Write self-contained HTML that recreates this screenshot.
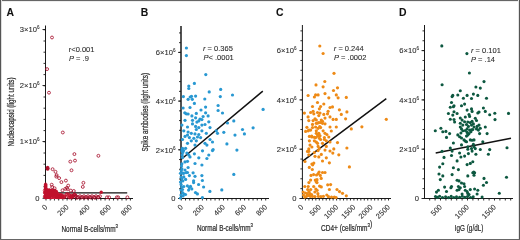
<!DOCTYPE html>
<html><head><meta charset="utf-8"><style>
html,body{margin:0;padding:0;background:#fff;}
body{width:520px;height:240px;overflow:hidden;}
svg{display:block;will-change:transform;font-family:"Liberation Sans", sans-serif;}
text{stroke:#2a2a2a;stroke-width:0.08px;}
</style></head><body>
<svg width="520" height="240" viewBox="0 0 520 240">
<rect x="0" y="0" width="520" height="240" fill="#fff"/>
<line x1="45.5" y1="25.5" x2="45.5" y2="199.0" stroke="#1a1a1a" stroke-width="1.0"/>
<line x1="43.5" y1="197.8" x2="45.5" y2="197.8" stroke="#1a1a1a" stroke-width="0.9"/>
<line x1="43.5" y1="186.6" x2="45.5" y2="186.6" stroke="#1a1a1a" stroke-width="0.9"/>
<line x1="43.5" y1="175.4" x2="45.5" y2="175.4" stroke="#1a1a1a" stroke-width="0.9"/>
<line x1="43.5" y1="164.2" x2="45.5" y2="164.2" stroke="#1a1a1a" stroke-width="0.9"/>
<line x1="43.5" y1="153.0" x2="45.5" y2="153.0" stroke="#1a1a1a" stroke-width="0.9"/>
<line x1="43.5" y1="141.8" x2="45.5" y2="141.8" stroke="#1a1a1a" stroke-width="0.9"/>
<line x1="43.5" y1="130.6" x2="45.5" y2="130.6" stroke="#1a1a1a" stroke-width="0.9"/>
<line x1="43.5" y1="119.4" x2="45.5" y2="119.4" stroke="#1a1a1a" stroke-width="0.9"/>
<line x1="43.5" y1="108.2" x2="45.5" y2="108.2" stroke="#1a1a1a" stroke-width="0.9"/>
<line x1="43.5" y1="97.0" x2="45.5" y2="97.0" stroke="#1a1a1a" stroke-width="0.9"/>
<line x1="43.5" y1="85.8" x2="45.5" y2="85.8" stroke="#1a1a1a" stroke-width="0.9"/>
<line x1="43.5" y1="74.6" x2="45.5" y2="74.6" stroke="#1a1a1a" stroke-width="0.9"/>
<line x1="43.5" y1="63.4" x2="45.5" y2="63.4" stroke="#1a1a1a" stroke-width="0.9"/>
<line x1="43.5" y1="52.2" x2="45.5" y2="52.2" stroke="#1a1a1a" stroke-width="0.9"/>
<line x1="43.5" y1="41.0" x2="45.5" y2="41.0" stroke="#1a1a1a" stroke-width="0.9"/>
<line x1="43.5" y1="29.8" x2="45.5" y2="29.8" stroke="#1a1a1a" stroke-width="0.9"/>
<line x1="42.5" y1="198.3" x2="45.5" y2="198.3" stroke="#1a1a1a" stroke-width="0.9"/>
<text x="39.5" y="201.0" font-size="7.6" text-anchor="end" fill="#2a2a2a">0</text>
<line x1="42.5" y1="141.5" x2="45.5" y2="141.5" stroke="#1a1a1a" stroke-width="0.9"/>
<text x="39.5" y="144.2" font-size="7.6" text-anchor="end" fill="#2a2a2a">1×10<tspan dy="-3" font-size="4.6">6</tspan></text>
<line x1="42.5" y1="85.5" x2="45.5" y2="85.5" stroke="#1a1a1a" stroke-width="0.9"/>
<text x="39.5" y="88.2" font-size="7.6" text-anchor="end" fill="#2a2a2a">2×10<tspan dy="-3" font-size="4.6">6</tspan></text>
<line x1="42.5" y1="29.5" x2="45.5" y2="29.5" stroke="#1a1a1a" stroke-width="0.9"/>
<text x="39.5" y="32.2" font-size="7.6" text-anchor="end" fill="#2a2a2a">3×10<tspan dy="-3" font-size="4.6">6</tspan></text>
<line x1="45.0" y1="198.5" x2="133" y2="198.5" stroke="#1a1a1a" stroke-width="1.0"/>
<line x1="46" y1="198.5" x2="46" y2="200.5" stroke="#1a1a1a" stroke-width="0.9"/>
<line x1="50.22" y1="198.5" x2="50.22" y2="200.5" stroke="#1a1a1a" stroke-width="0.9"/>
<line x1="54.44" y1="198.5" x2="54.44" y2="200.5" stroke="#1a1a1a" stroke-width="0.9"/>
<line x1="58.66" y1="198.5" x2="58.66" y2="200.5" stroke="#1a1a1a" stroke-width="0.9"/>
<line x1="62.88" y1="198.5" x2="62.88" y2="200.5" stroke="#1a1a1a" stroke-width="0.9"/>
<line x1="67.1" y1="198.5" x2="67.1" y2="200.5" stroke="#1a1a1a" stroke-width="0.9"/>
<line x1="71.32" y1="198.5" x2="71.32" y2="200.5" stroke="#1a1a1a" stroke-width="0.9"/>
<line x1="75.54" y1="198.5" x2="75.54" y2="200.5" stroke="#1a1a1a" stroke-width="0.9"/>
<line x1="79.76" y1="198.5" x2="79.76" y2="200.5" stroke="#1a1a1a" stroke-width="0.9"/>
<line x1="83.98" y1="198.5" x2="83.98" y2="200.5" stroke="#1a1a1a" stroke-width="0.9"/>
<line x1="88.2" y1="198.5" x2="88.2" y2="200.5" stroke="#1a1a1a" stroke-width="0.9"/>
<line x1="92.42" y1="198.5" x2="92.42" y2="200.5" stroke="#1a1a1a" stroke-width="0.9"/>
<line x1="96.64" y1="198.5" x2="96.64" y2="200.5" stroke="#1a1a1a" stroke-width="0.9"/>
<line x1="100.86" y1="198.5" x2="100.86" y2="200.5" stroke="#1a1a1a" stroke-width="0.9"/>
<line x1="105.08" y1="198.5" x2="105.08" y2="200.5" stroke="#1a1a1a" stroke-width="0.9"/>
<line x1="109.3" y1="198.5" x2="109.3" y2="200.5" stroke="#1a1a1a" stroke-width="0.9"/>
<line x1="113.52" y1="198.5" x2="113.52" y2="200.5" stroke="#1a1a1a" stroke-width="0.9"/>
<line x1="117.74" y1="198.5" x2="117.74" y2="200.5" stroke="#1a1a1a" stroke-width="0.9"/>
<line x1="121.96" y1="198.5" x2="121.96" y2="200.5" stroke="#1a1a1a" stroke-width="0.9"/>
<line x1="126.18" y1="198.5" x2="126.18" y2="200.5" stroke="#1a1a1a" stroke-width="0.9"/>
<line x1="130.4" y1="198.5" x2="130.4" y2="200.5" stroke="#1a1a1a" stroke-width="0.9"/>
<text x="48.0" y="207.5" font-size="7.4" text-anchor="end" fill="#2a2a2a" transform="rotate(-45 48.00 207.50)">0</text>
<text x="69.1" y="207.5" font-size="7.4" text-anchor="end" fill="#2a2a2a" transform="rotate(-45 69.10 207.50)">200</text>
<text x="90.2" y="207.5" font-size="7.4" text-anchor="end" fill="#2a2a2a" transform="rotate(-45 90.20 207.50)">400</text>
<text x="111.30000000000001" y="207.5" font-size="7.4" text-anchor="end" fill="#2a2a2a" transform="rotate(-45 111.30 207.50)">600</text>
<text x="132.4" y="207.5" font-size="7.4" text-anchor="end" fill="#2a2a2a" transform="rotate(-45 132.40 207.50)">800</text>
<line x1="181" y1="26" x2="181" y2="199.0" stroke="#1a1a1a" stroke-width="1.5"/>
<line x1="179" y1="198.5" x2="181" y2="198.5" stroke="#1a1a1a" stroke-width="0.9"/>
<line x1="179" y1="188.76" x2="181" y2="188.76" stroke="#1a1a1a" stroke-width="0.9"/>
<line x1="179" y1="179.02" x2="181" y2="179.02" stroke="#1a1a1a" stroke-width="0.9"/>
<line x1="179" y1="169.28" x2="181" y2="169.28" stroke="#1a1a1a" stroke-width="0.9"/>
<line x1="179" y1="159.54" x2="181" y2="159.54" stroke="#1a1a1a" stroke-width="0.9"/>
<line x1="179" y1="149.8" x2="181" y2="149.8" stroke="#1a1a1a" stroke-width="0.9"/>
<line x1="179" y1="140.06" x2="181" y2="140.06" stroke="#1a1a1a" stroke-width="0.9"/>
<line x1="179" y1="130.32" x2="181" y2="130.32" stroke="#1a1a1a" stroke-width="0.9"/>
<line x1="179" y1="120.58" x2="181" y2="120.58" stroke="#1a1a1a" stroke-width="0.9"/>
<line x1="179" y1="110.84" x2="181" y2="110.84" stroke="#1a1a1a" stroke-width="0.9"/>
<line x1="179" y1="101.1" x2="181" y2="101.1" stroke="#1a1a1a" stroke-width="0.9"/>
<line x1="179" y1="91.36" x2="181" y2="91.36" stroke="#1a1a1a" stroke-width="0.9"/>
<line x1="179" y1="81.62" x2="181" y2="81.62" stroke="#1a1a1a" stroke-width="0.9"/>
<line x1="179" y1="71.88" x2="181" y2="71.88" stroke="#1a1a1a" stroke-width="0.9"/>
<line x1="179" y1="62.14" x2="181" y2="62.14" stroke="#1a1a1a" stroke-width="0.9"/>
<line x1="179" y1="52.4" x2="181" y2="52.4" stroke="#1a1a1a" stroke-width="0.9"/>
<line x1="179" y1="42.66" x2="181" y2="42.66" stroke="#1a1a1a" stroke-width="0.9"/>
<line x1="179" y1="32.92" x2="181" y2="32.92" stroke="#1a1a1a" stroke-width="0.9"/>
<line x1="178" y1="198.5" x2="181" y2="198.5" stroke="#1a1a1a" stroke-width="0.9"/>
<text x="175.5" y="201.2" font-size="7.6" text-anchor="end" fill="#2a2a2a">0</text>
<line x1="178" y1="149.8" x2="181" y2="149.8" stroke="#1a1a1a" stroke-width="0.9"/>
<text x="175.5" y="152.5" font-size="7.6" text-anchor="end" fill="#2a2a2a">2×10<tspan dy="-3" font-size="4.6">6</tspan></text>
<line x1="178" y1="101.1" x2="181" y2="101.1" stroke="#1a1a1a" stroke-width="0.9"/>
<text x="175.5" y="103.8" font-size="7.6" text-anchor="end" fill="#2a2a2a">4×10<tspan dy="-3" font-size="4.6">6</tspan></text>
<line x1="178" y1="52.4" x2="181" y2="52.4" stroke="#1a1a1a" stroke-width="0.9"/>
<text x="175.5" y="55.1" font-size="7.6" text-anchor="end" fill="#2a2a2a">6×10<tspan dy="-3" font-size="4.6">6</tspan></text>
<line x1="180.5" y1="198.5" x2="269" y2="198.5" stroke="#1a1a1a" stroke-width="1.0"/>
<line x1="181.3" y1="198.5" x2="181.3" y2="200.5" stroke="#1a1a1a" stroke-width="0.9"/>
<line x1="185.52" y1="198.5" x2="185.52" y2="200.5" stroke="#1a1a1a" stroke-width="0.9"/>
<line x1="189.74" y1="198.5" x2="189.74" y2="200.5" stroke="#1a1a1a" stroke-width="0.9"/>
<line x1="193.96" y1="198.5" x2="193.96" y2="200.5" stroke="#1a1a1a" stroke-width="0.9"/>
<line x1="198.18" y1="198.5" x2="198.18" y2="200.5" stroke="#1a1a1a" stroke-width="0.9"/>
<line x1="202.4" y1="198.5" x2="202.4" y2="200.5" stroke="#1a1a1a" stroke-width="0.9"/>
<line x1="206.62" y1="198.5" x2="206.62" y2="200.5" stroke="#1a1a1a" stroke-width="0.9"/>
<line x1="210.84" y1="198.5" x2="210.84" y2="200.5" stroke="#1a1a1a" stroke-width="0.9"/>
<line x1="215.06" y1="198.5" x2="215.06" y2="200.5" stroke="#1a1a1a" stroke-width="0.9"/>
<line x1="219.28" y1="198.5" x2="219.28" y2="200.5" stroke="#1a1a1a" stroke-width="0.9"/>
<line x1="223.5" y1="198.5" x2="223.5" y2="200.5" stroke="#1a1a1a" stroke-width="0.9"/>
<line x1="227.72" y1="198.5" x2="227.72" y2="200.5" stroke="#1a1a1a" stroke-width="0.9"/>
<line x1="231.94" y1="198.5" x2="231.94" y2="200.5" stroke="#1a1a1a" stroke-width="0.9"/>
<line x1="236.16" y1="198.5" x2="236.16" y2="200.5" stroke="#1a1a1a" stroke-width="0.9"/>
<line x1="240.38" y1="198.5" x2="240.38" y2="200.5" stroke="#1a1a1a" stroke-width="0.9"/>
<line x1="244.6" y1="198.5" x2="244.6" y2="200.5" stroke="#1a1a1a" stroke-width="0.9"/>
<line x1="248.82" y1="198.5" x2="248.82" y2="200.5" stroke="#1a1a1a" stroke-width="0.9"/>
<line x1="253.04" y1="198.5" x2="253.04" y2="200.5" stroke="#1a1a1a" stroke-width="0.9"/>
<line x1="257.26" y1="198.5" x2="257.26" y2="200.5" stroke="#1a1a1a" stroke-width="0.9"/>
<line x1="261.48" y1="198.5" x2="261.48" y2="200.5" stroke="#1a1a1a" stroke-width="0.9"/>
<line x1="265.7" y1="198.5" x2="265.7" y2="200.5" stroke="#1a1a1a" stroke-width="0.9"/>
<text x="183.3" y="207.5" font-size="7.4" text-anchor="end" fill="#2a2a2a" transform="rotate(-45 183.30 207.50)">0</text>
<text x="204.4" y="207.5" font-size="7.4" text-anchor="end" fill="#2a2a2a" transform="rotate(-45 204.40 207.50)">200</text>
<text x="225.5" y="207.5" font-size="7.4" text-anchor="end" fill="#2a2a2a" transform="rotate(-45 225.50 207.50)">400</text>
<text x="246.60000000000002" y="207.5" font-size="7.4" text-anchor="end" fill="#2a2a2a" transform="rotate(-45 246.60 207.50)">600</text>
<text x="267.70000000000005" y="207.5" font-size="7.4" text-anchor="end" fill="#2a2a2a" transform="rotate(-45 267.70 207.50)">800</text>
<line x1="302.4" y1="25" x2="302.4" y2="199.0" stroke="#1a1a1a" stroke-width="1.0"/>
<line x1="300.4" y1="198.5" x2="302.4" y2="198.5" stroke="#1a1a1a" stroke-width="0.9"/>
<line x1="300.4" y1="188.64" x2="302.4" y2="188.64" stroke="#1a1a1a" stroke-width="0.9"/>
<line x1="300.4" y1="178.78" x2="302.4" y2="178.78" stroke="#1a1a1a" stroke-width="0.9"/>
<line x1="300.4" y1="168.92" x2="302.4" y2="168.92" stroke="#1a1a1a" stroke-width="0.9"/>
<line x1="300.4" y1="159.06" x2="302.4" y2="159.06" stroke="#1a1a1a" stroke-width="0.9"/>
<line x1="300.4" y1="149.2" x2="302.4" y2="149.2" stroke="#1a1a1a" stroke-width="0.9"/>
<line x1="300.4" y1="139.34" x2="302.4" y2="139.34" stroke="#1a1a1a" stroke-width="0.9"/>
<line x1="300.4" y1="129.48" x2="302.4" y2="129.48" stroke="#1a1a1a" stroke-width="0.9"/>
<line x1="300.4" y1="119.62" x2="302.4" y2="119.62" stroke="#1a1a1a" stroke-width="0.9"/>
<line x1="300.4" y1="109.76" x2="302.4" y2="109.76" stroke="#1a1a1a" stroke-width="0.9"/>
<line x1="300.4" y1="99.9" x2="302.4" y2="99.9" stroke="#1a1a1a" stroke-width="0.9"/>
<line x1="300.4" y1="90.04" x2="302.4" y2="90.04" stroke="#1a1a1a" stroke-width="0.9"/>
<line x1="300.4" y1="80.18" x2="302.4" y2="80.18" stroke="#1a1a1a" stroke-width="0.9"/>
<line x1="300.4" y1="70.32" x2="302.4" y2="70.32" stroke="#1a1a1a" stroke-width="0.9"/>
<line x1="300.4" y1="60.46" x2="302.4" y2="60.46" stroke="#1a1a1a" stroke-width="0.9"/>
<line x1="300.4" y1="50.6" x2="302.4" y2="50.6" stroke="#1a1a1a" stroke-width="0.9"/>
<line x1="300.4" y1="40.74" x2="302.4" y2="40.74" stroke="#1a1a1a" stroke-width="0.9"/>
<line x1="300.4" y1="30.88" x2="302.4" y2="30.88" stroke="#1a1a1a" stroke-width="0.9"/>
<line x1="299.4" y1="198.5" x2="302.4" y2="198.5" stroke="#1a1a1a" stroke-width="0.9"/>
<text x="296.5" y="201.2" font-size="7.6" text-anchor="end" fill="#2a2a2a">0</text>
<line x1="299.4" y1="149.2" x2="302.4" y2="149.2" stroke="#1a1a1a" stroke-width="0.9"/>
<text x="296.5" y="151.89999999999998" font-size="7.6" text-anchor="end" fill="#2a2a2a">2×10<tspan dy="-3" font-size="4.6">6</tspan></text>
<line x1="299.4" y1="99.9" x2="302.4" y2="99.9" stroke="#1a1a1a" stroke-width="0.9"/>
<text x="296.5" y="102.60000000000001" font-size="7.6" text-anchor="end" fill="#2a2a2a">4×10<tspan dy="-3" font-size="4.6">6</tspan></text>
<line x1="299.4" y1="50.6" x2="302.4" y2="50.6" stroke="#1a1a1a" stroke-width="0.9"/>
<text x="296.5" y="53.300000000000004" font-size="7.6" text-anchor="end" fill="#2a2a2a">6×10<tspan dy="-3" font-size="4.6">6</tspan></text>
<line x1="301.9" y1="198.5" x2="391" y2="198.5" stroke="#1a1a1a" stroke-width="1.0"/>
<line x1="305.46" y1="198.5" x2="305.46" y2="200.5" stroke="#1a1a1a" stroke-width="0.9"/>
<line x1="308.92" y1="198.5" x2="308.92" y2="200.5" stroke="#1a1a1a" stroke-width="0.9"/>
<line x1="312.38" y1="198.5" x2="312.38" y2="200.5" stroke="#1a1a1a" stroke-width="0.9"/>
<line x1="315.84" y1="198.5" x2="315.84" y2="200.5" stroke="#1a1a1a" stroke-width="0.9"/>
<line x1="319.3" y1="198.5" x2="319.3" y2="200.5" stroke="#1a1a1a" stroke-width="0.9"/>
<line x1="322.76" y1="198.5" x2="322.76" y2="200.5" stroke="#1a1a1a" stroke-width="0.9"/>
<line x1="326.22" y1="198.5" x2="326.22" y2="200.5" stroke="#1a1a1a" stroke-width="0.9"/>
<line x1="329.68" y1="198.5" x2="329.68" y2="200.5" stroke="#1a1a1a" stroke-width="0.9"/>
<line x1="333.14" y1="198.5" x2="333.14" y2="200.5" stroke="#1a1a1a" stroke-width="0.9"/>
<line x1="336.6" y1="198.5" x2="336.6" y2="200.5" stroke="#1a1a1a" stroke-width="0.9"/>
<line x1="340.06" y1="198.5" x2="340.06" y2="200.5" stroke="#1a1a1a" stroke-width="0.9"/>
<line x1="343.52" y1="198.5" x2="343.52" y2="200.5" stroke="#1a1a1a" stroke-width="0.9"/>
<line x1="346.98" y1="198.5" x2="346.98" y2="200.5" stroke="#1a1a1a" stroke-width="0.9"/>
<line x1="350.44" y1="198.5" x2="350.44" y2="200.5" stroke="#1a1a1a" stroke-width="0.9"/>
<line x1="353.9" y1="198.5" x2="353.9" y2="200.5" stroke="#1a1a1a" stroke-width="0.9"/>
<line x1="357.36" y1="198.5" x2="357.36" y2="200.5" stroke="#1a1a1a" stroke-width="0.9"/>
<line x1="360.82" y1="198.5" x2="360.82" y2="200.5" stroke="#1a1a1a" stroke-width="0.9"/>
<line x1="364.28" y1="198.5" x2="364.28" y2="200.5" stroke="#1a1a1a" stroke-width="0.9"/>
<line x1="367.74" y1="198.5" x2="367.74" y2="200.5" stroke="#1a1a1a" stroke-width="0.9"/>
<line x1="371.2" y1="198.5" x2="371.2" y2="200.5" stroke="#1a1a1a" stroke-width="0.9"/>
<line x1="374.66" y1="198.5" x2="374.66" y2="200.5" stroke="#1a1a1a" stroke-width="0.9"/>
<line x1="378.12" y1="198.5" x2="378.12" y2="200.5" stroke="#1a1a1a" stroke-width="0.9"/>
<line x1="381.58" y1="198.5" x2="381.58" y2="200.5" stroke="#1a1a1a" stroke-width="0.9"/>
<line x1="385.04" y1="198.5" x2="385.04" y2="200.5" stroke="#1a1a1a" stroke-width="0.9"/>
<line x1="388.5" y1="198.5" x2="388.5" y2="200.5" stroke="#1a1a1a" stroke-width="0.9"/>
<text x="304.0" y="207.5" font-size="7.4" text-anchor="end" fill="#2a2a2a" transform="rotate(-45 304.00 207.50)">0</text>
<text x="321.3" y="207.5" font-size="7.4" text-anchor="end" fill="#2a2a2a" transform="rotate(-45 321.30 207.50)">500</text>
<text x="338.6" y="207.5" font-size="7.4" text-anchor="end" fill="#2a2a2a" transform="rotate(-45 338.60 207.50)">1000</text>
<text x="355.9" y="207.5" font-size="7.4" text-anchor="end" fill="#2a2a2a" transform="rotate(-45 355.90 207.50)">1500</text>
<text x="373.2" y="207.5" font-size="7.4" text-anchor="end" fill="#2a2a2a" transform="rotate(-45 373.20 207.50)">2000</text>
<text x="390.5" y="207.5" font-size="7.4" text-anchor="end" fill="#2a2a2a" transform="rotate(-45 390.50 207.50)">2500</text>
<line x1="424.5" y1="25" x2="424.5" y2="199.0" stroke="#1a1a1a" stroke-width="1.0"/>
<line x1="422.5" y1="198.5" x2="424.5" y2="198.5" stroke="#1a1a1a" stroke-width="0.9"/>
<line x1="422.5" y1="188.64" x2="424.5" y2="188.64" stroke="#1a1a1a" stroke-width="0.9"/>
<line x1="422.5" y1="178.78" x2="424.5" y2="178.78" stroke="#1a1a1a" stroke-width="0.9"/>
<line x1="422.5" y1="168.92" x2="424.5" y2="168.92" stroke="#1a1a1a" stroke-width="0.9"/>
<line x1="422.5" y1="159.06" x2="424.5" y2="159.06" stroke="#1a1a1a" stroke-width="0.9"/>
<line x1="422.5" y1="149.2" x2="424.5" y2="149.2" stroke="#1a1a1a" stroke-width="0.9"/>
<line x1="422.5" y1="139.34" x2="424.5" y2="139.34" stroke="#1a1a1a" stroke-width="0.9"/>
<line x1="422.5" y1="129.48" x2="424.5" y2="129.48" stroke="#1a1a1a" stroke-width="0.9"/>
<line x1="422.5" y1="119.62" x2="424.5" y2="119.62" stroke="#1a1a1a" stroke-width="0.9"/>
<line x1="422.5" y1="109.76" x2="424.5" y2="109.76" stroke="#1a1a1a" stroke-width="0.9"/>
<line x1="422.5" y1="99.9" x2="424.5" y2="99.9" stroke="#1a1a1a" stroke-width="0.9"/>
<line x1="422.5" y1="90.04" x2="424.5" y2="90.04" stroke="#1a1a1a" stroke-width="0.9"/>
<line x1="422.5" y1="80.18" x2="424.5" y2="80.18" stroke="#1a1a1a" stroke-width="0.9"/>
<line x1="422.5" y1="70.32" x2="424.5" y2="70.32" stroke="#1a1a1a" stroke-width="0.9"/>
<line x1="422.5" y1="60.46" x2="424.5" y2="60.46" stroke="#1a1a1a" stroke-width="0.9"/>
<line x1="422.5" y1="50.6" x2="424.5" y2="50.6" stroke="#1a1a1a" stroke-width="0.9"/>
<line x1="422.5" y1="40.74" x2="424.5" y2="40.74" stroke="#1a1a1a" stroke-width="0.9"/>
<line x1="422.5" y1="30.88" x2="424.5" y2="30.88" stroke="#1a1a1a" stroke-width="0.9"/>
<line x1="421.5" y1="198.5" x2="424.5" y2="198.5" stroke="#1a1a1a" stroke-width="0.9"/>
<text x="419" y="201.2" font-size="7.6" text-anchor="end" fill="#2a2a2a">0</text>
<line x1="421.5" y1="149.2" x2="424.5" y2="149.2" stroke="#1a1a1a" stroke-width="0.9"/>
<text x="419" y="151.89999999999998" font-size="7.6" text-anchor="end" fill="#2a2a2a">2×10<tspan dy="-3" font-size="4.6">6</tspan></text>
<line x1="421.5" y1="99.9" x2="424.5" y2="99.9" stroke="#1a1a1a" stroke-width="0.9"/>
<text x="419" y="102.60000000000001" font-size="7.6" text-anchor="end" fill="#2a2a2a">4×10<tspan dy="-3" font-size="4.6">6</tspan></text>
<line x1="421.5" y1="50.6" x2="424.5" y2="50.6" stroke="#1a1a1a" stroke-width="0.9"/>
<text x="419" y="53.300000000000004" font-size="7.6" text-anchor="end" fill="#2a2a2a">6×10<tspan dy="-3" font-size="4.6">6</tspan></text>
<line x1="424.0" y1="198.5" x2="513" y2="198.5" stroke="#1a1a1a" stroke-width="1.0"/>
<line x1="429.7" y1="198.5" x2="429.7" y2="200.5" stroke="#1a1a1a" stroke-width="0.9"/>
<line x1="435.1" y1="198.5" x2="435.1" y2="200.5" stroke="#1a1a1a" stroke-width="0.9"/>
<line x1="440.5" y1="198.5" x2="440.5" y2="200.5" stroke="#1a1a1a" stroke-width="0.9"/>
<line x1="445.9" y1="198.5" x2="445.9" y2="200.5" stroke="#1a1a1a" stroke-width="0.9"/>
<line x1="451.3" y1="198.5" x2="451.3" y2="200.5" stroke="#1a1a1a" stroke-width="0.9"/>
<line x1="456.7" y1="198.5" x2="456.7" y2="200.5" stroke="#1a1a1a" stroke-width="0.9"/>
<line x1="462.1" y1="198.5" x2="462.1" y2="200.5" stroke="#1a1a1a" stroke-width="0.9"/>
<line x1="467.5" y1="198.5" x2="467.5" y2="200.5" stroke="#1a1a1a" stroke-width="0.9"/>
<line x1="472.9" y1="198.5" x2="472.9" y2="200.5" stroke="#1a1a1a" stroke-width="0.9"/>
<line x1="478.3" y1="198.5" x2="478.3" y2="200.5" stroke="#1a1a1a" stroke-width="0.9"/>
<line x1="483.7" y1="198.5" x2="483.7" y2="200.5" stroke="#1a1a1a" stroke-width="0.9"/>
<line x1="489.1" y1="198.5" x2="489.1" y2="200.5" stroke="#1a1a1a" stroke-width="0.9"/>
<line x1="494.5" y1="198.5" x2="494.5" y2="200.5" stroke="#1a1a1a" stroke-width="0.9"/>
<line x1="499.9" y1="198.5" x2="499.9" y2="200.5" stroke="#1a1a1a" stroke-width="0.9"/>
<line x1="505.3" y1="198.5" x2="505.3" y2="200.5" stroke="#1a1a1a" stroke-width="0.9"/>
<line x1="510.7" y1="198.5" x2="510.7" y2="200.5" stroke="#1a1a1a" stroke-width="0.9"/>
<text x="442.5" y="207.5" font-size="7.4" text-anchor="end" fill="#2a2a2a" transform="rotate(-45 442.50 207.50)">500</text>
<text x="469.5" y="207.5" font-size="7.4" text-anchor="end" fill="#2a2a2a" transform="rotate(-45 469.50 207.50)">1000</text>
<text x="496.5" y="207.5" font-size="7.4" text-anchor="end" fill="#2a2a2a" transform="rotate(-45 496.50 207.50)">1500</text>
<text x="6.5" y="15.5" font-size="10.4" font-weight="bold" fill="#111">A</text>
<text x="140.8" y="15.5" font-size="10.4" font-weight="bold" fill="#111">B</text>
<text x="276" y="15.5" font-size="10.4" font-weight="bold" fill="#111">C</text>
<text x="399" y="15.5" font-size="10.4" font-weight="bold" fill="#111">D</text>
<text x="68.8" y="51.5" font-size="7.5" fill="#2a2a2a">r&lt;0.001</text>
<text x="69" y="60.5" font-size="7.5" fill="#2a2a2a"><tspan font-style="italic">P</tspan> = .9</text>
<text x="203" y="51.2" font-size="7.5" fill="#2a2a2a"><tspan font-style="italic">r</tspan> = 0.365</text>
<text x="203.5" y="60.2" font-size="7.5" fill="#2a2a2a"><tspan font-style="italic">P</tspan>&lt; .0001</text>
<text x="333.8" y="51" font-size="7.5" fill="#2a2a2a"><tspan font-style="italic">r</tspan> = 0.244</text>
<text x="334" y="60" font-size="7.5" fill="#2a2a2a"><tspan font-style="italic">P</tspan> = .0002</text>
<text x="471" y="53" font-size="7.5" fill="#2a2a2a"><tspan font-style="italic">r</tspan> = 0.101</text>
<text x="471" y="61.8" font-size="7.5" fill="#2a2a2a"><tspan font-style="italic">P</tspan> = .14</text>
<text x="61.5" y="231.6" font-size="8.8" textLength="56.5" lengthAdjust="spacingAndGlyphs" fill="#2a2a2a" style="stroke-width:0.22px">Normal B-cells/mm<tspan dy="-4" font-size="6">3</tspan></text>
<text x="197" y="231.4" font-size="8.8" textLength="56" lengthAdjust="spacingAndGlyphs" fill="#2a2a2a" style="stroke-width:0.22px">Normal B-cells/mm<tspan dy="-4" font-size="6">3</tspan></text>
<text x="321" y="231.4" font-size="8.8" textLength="51.2" lengthAdjust="spacingAndGlyphs" fill="#2a2a2a" style="stroke-width:0.22px">CD4+ (cells/mm<tspan dy="-4" font-size="6">3</tspan>)</text>
<text x="454.8" y="231.4" font-size="8.8" textLength="28.5" lengthAdjust="spacingAndGlyphs" fill="#2a2a2a" style="stroke-width:0.22px">IgG (g/dL)</text>
<text x="13.9" y="146.5" font-size="8.2" textLength="69" lengthAdjust="spacingAndGlyphs" fill="#2a2a2a" style="stroke-width:0.22px" transform="rotate(-90 13.9 146.5)">Nucleocapsid (light units)</text>
<text x="148.2" y="151.5" font-size="8.2" textLength="78.5" lengthAdjust="spacingAndGlyphs" fill="#2a2a2a" style="stroke-width:0.22px" transform="rotate(-90 148.2 151.5)">Spike antibodies (light units)</text>
<line x1="46" y1="192.9" x2="127.2" y2="192.9" stroke="#111" stroke-width="1.3"/>
<line x1="181" y1="159.5" x2="262.8" y2="91.2" stroke="#111" stroke-width="1.5"/>
<line x1="303" y1="160.9" x2="386.3" y2="98.6" stroke="#111" stroke-width="1.5"/>
<line x1="435.7" y1="153" x2="511" y2="138.3" stroke="#111" stroke-width="1.5"/>
<g fill="#2898d2"><circle cx="186.4" cy="48.0" r="1.6"/><circle cx="186.4" cy="55.6" r="1.6"/><circle cx="205.8" cy="74.6" r="1.6"/><circle cx="194.4" cy="83.4" r="1.6"/><circle cx="188.8" cy="86.0" r="1.6"/><circle cx="188.8" cy="88.5" r="1.6"/><circle cx="220.7" cy="89.4" r="1.6"/><circle cx="209.2" cy="91.9" r="1.6"/><circle cx="232.5" cy="95.0" r="1.6"/><circle cx="220.3" cy="96.6" r="1.6"/><circle cx="195.6" cy="96.1" r="1.6"/><circle cx="190.2" cy="97.0" r="1.6"/><circle cx="183.4" cy="96.6" r="1.6"/><circle cx="188.1" cy="99.3" r="1.6"/><circle cx="191.5" cy="96.3" r="1.6"/><circle cx="192.3" cy="99.3" r="1.6"/><circle cx="204.8" cy="99.0" r="1.6"/><circle cx="194.4" cy="103.4" r="1.6"/><circle cx="183.1" cy="108.0" r="1.6"/><circle cx="190.0" cy="107.5" r="1.6"/><circle cx="205.6" cy="107.1" r="1.6"/><circle cx="218.1" cy="105.5" r="1.6"/><circle cx="201.0" cy="110.0" r="1.6"/><circle cx="218.1" cy="110.5" r="1.6"/><circle cx="222.5" cy="113.0" r="1.6"/><circle cx="205.6" cy="112.8" r="1.6"/><circle cx="184.8" cy="112.8" r="1.6"/><circle cx="186.3" cy="113.8" r="1.6"/><circle cx="188.1" cy="114.0" r="1.6"/><circle cx="196.3" cy="113.4" r="1.6"/><circle cx="191.9" cy="115.9" r="1.6"/><circle cx="208.1" cy="115.9" r="1.6"/><circle cx="203.1" cy="116.5" r="1.6"/><circle cx="195.6" cy="117.8" r="1.6"/><circle cx="200.0" cy="119.0" r="1.6"/><circle cx="201.9" cy="119.6" r="1.6"/><circle cx="198.8" cy="120.9" r="1.6"/><circle cx="185.0" cy="120.3" r="1.6"/><circle cx="192.5" cy="120.3" r="1.6"/><circle cx="208.8" cy="121.8" r="1.6"/><circle cx="233.8" cy="120.9" r="1.6"/><circle cx="196.9" cy="122.1" r="1.6"/><circle cx="181.9" cy="125.1" r="1.6"/><circle cx="187.5" cy="127.0" r="1.6"/><circle cx="192.5" cy="123.9" r="1.6"/><circle cx="195.6" cy="126.4" r="1.6"/><circle cx="198.8" cy="127.6" r="1.6"/><circle cx="201.9" cy="125.1" r="1.6"/><circle cx="205.0" cy="124.5" r="1.6"/><circle cx="210.0" cy="127.6" r="1.6"/><circle cx="227.5" cy="123.0" r="1.6"/><circle cx="242.5" cy="129.5" r="1.6"/><circle cx="244.4" cy="133.9" r="1.6"/><circle cx="183.8" cy="130.8" r="1.6"/><circle cx="188.1" cy="132.0" r="1.6"/><circle cx="191.3" cy="133.3" r="1.6"/><circle cx="195.0" cy="133.9" r="1.6"/><circle cx="196.3" cy="129.5" r="1.6"/><circle cx="201.9" cy="130.8" r="1.6"/><circle cx="206.3" cy="133.3" r="1.6"/><circle cx="198.8" cy="134.5" r="1.6"/><circle cx="216.3" cy="130.8" r="1.6"/><circle cx="217.5" cy="133.3" r="1.6"/><circle cx="223.8" cy="132.3" r="1.6"/><circle cx="235.0" cy="135.1" r="1.6"/><circle cx="185.0" cy="136.4" r="1.6"/><circle cx="187.5" cy="135.1" r="1.6"/><circle cx="189.4" cy="137.6" r="1.6"/><circle cx="182.5" cy="139.5" r="1.6"/><circle cx="193.8" cy="138.3" r="1.6"/><circle cx="197.5" cy="137.0" r="1.6"/><circle cx="200.6" cy="137.6" r="1.6"/><circle cx="196.3" cy="140.8" r="1.6"/><circle cx="191.3" cy="140.8" r="1.6"/><circle cx="187.5" cy="143.3" r="1.6"/><circle cx="205.0" cy="143.3" r="1.6"/><circle cx="206.9" cy="145.1" r="1.6"/><circle cx="210.0" cy="139.5" r="1.6"/><circle cx="212.5" cy="142.0" r="1.6"/><circle cx="195.0" cy="145.1" r="1.6"/><circle cx="226.9" cy="143.9" r="1.6"/><circle cx="182.5" cy="148.3" r="1.6"/><circle cx="185.6" cy="148.3" r="1.6"/><circle cx="181.9" cy="150.1" r="1.6"/><circle cx="202.5" cy="150.8" r="1.6"/><circle cx="213.1" cy="149.5" r="1.6"/><circle cx="236.9" cy="150.1" r="1.6"/><circle cx="253.1" cy="127.8" r="1.6"/><circle cx="263.1" cy="109.4" r="1.6"/><circle cx="182.5" cy="151.3" r="1.6"/><circle cx="186.9" cy="153.1" r="1.6"/><circle cx="188.8" cy="155.0" r="1.6"/><circle cx="190.0" cy="156.9" r="1.6"/><circle cx="194.4" cy="153.8" r="1.6"/><circle cx="212.5" cy="150.6" r="1.6"/><circle cx="208.8" cy="155.0" r="1.6"/><circle cx="206.9" cy="158.5" r="1.6"/><circle cx="198.8" cy="157.8" r="1.6"/><circle cx="182.5" cy="157.5" r="1.6"/><circle cx="185.0" cy="161.9" r="1.6"/><circle cx="187.5" cy="161.3" r="1.6"/><circle cx="181.9" cy="163.8" r="1.6"/><circle cx="195.0" cy="163.5" r="1.6"/><circle cx="201.9" cy="165.0" r="1.6"/><circle cx="188.1" cy="167.5" r="1.6"/><circle cx="181.9" cy="168.8" r="1.6"/><circle cx="185.0" cy="170.0" r="1.6"/><circle cx="182.5" cy="173.1" r="1.6"/><circle cx="187.5" cy="172.5" r="1.6"/><circle cx="193.1" cy="172.8" r="1.6"/><circle cx="189.4" cy="175.6" r="1.6"/><circle cx="195.0" cy="176.3" r="1.6"/><circle cx="201.9" cy="175.6" r="1.6"/><circle cx="233.8" cy="174.4" r="1.6"/><circle cx="183.8" cy="176.9" r="1.6"/><circle cx="181.9" cy="178.8" r="1.6"/><circle cx="185.6" cy="179.4" r="1.6"/><circle cx="180.5" cy="173.3" r="1.6"/><circle cx="183.6" cy="173.3" r="1.6"/><circle cx="186.1" cy="172.6" r="1.6"/><circle cx="181.1" cy="177.0" r="1.6"/><circle cx="193.6" cy="180.8" r="1.6"/><circle cx="193.6" cy="182.6" r="1.6"/><circle cx="202.4" cy="180.5" r="1.6"/><circle cx="198.6" cy="184.5" r="1.6"/><circle cx="180.5" cy="182.0" r="1.6"/><circle cx="181.1" cy="184.5" r="1.6"/><circle cx="181.8" cy="187.0" r="1.6"/><circle cx="187.4" cy="185.8" r="1.6"/><circle cx="189.3" cy="187.6" r="1.6"/><circle cx="190.5" cy="186.4" r="1.6"/><circle cx="191.8" cy="188.9" r="1.6"/><circle cx="188.6" cy="190.1" r="1.6"/><circle cx="203.6" cy="187.0" r="1.6"/><circle cx="209.9" cy="191.4" r="1.6"/><circle cx="221.8" cy="189.9" r="1.6"/><circle cx="195.5" cy="192.6" r="1.6"/><circle cx="197.4" cy="193.9" r="1.6"/><circle cx="181.0" cy="190.0" r="1.6"/><circle cx="182.5" cy="192.5" r="1.6"/><circle cx="184.0" cy="194.0" r="1.6"/><circle cx="181.0" cy="195.0" r="1.6"/><circle cx="183.0" cy="196.0" r="1.6"/><circle cx="185.5" cy="194.5" r="1.6"/><circle cx="202.4" cy="197.6" r="1.6"/><circle cx="180.5" cy="198.0" r="1.6"/><circle cx="182.8" cy="152.5" r="1.6"/><circle cx="182.2" cy="155.0" r="1.6"/><circle cx="183.6" cy="150.5" r="1.6"/><circle cx="181.5" cy="166.0" r="1.6"/><circle cx="181.3" cy="170.5" r="1.6"/><circle cx="182.8" cy="181.0" r="1.6"/><circle cx="182.5" cy="189.5" r="1.6"/><circle cx="183.8" cy="186.5" r="1.6"/></g>
<g fill="#ee8a16"><circle cx="319.8" cy="46.0" r="1.58"/><circle cx="323.1" cy="53.5" r="1.58"/><circle cx="334.0" cy="73.3" r="1.58"/><circle cx="324.8" cy="81.5" r="1.58"/><circle cx="316.0" cy="84.9" r="1.58"/><circle cx="323.1" cy="86.8" r="1.58"/><circle cx="337.5" cy="87.8" r="1.58"/><circle cx="333.5" cy="90.5" r="1.58"/><circle cx="325.0" cy="93.6" r="1.58"/><circle cx="308.1" cy="95.5" r="1.58"/><circle cx="315.6" cy="94.9" r="1.58"/><circle cx="318.1" cy="94.9" r="1.58"/><circle cx="314.4" cy="97.0" r="1.58"/><circle cx="336.3" cy="94.9" r="1.58"/><circle cx="328.8" cy="97.8" r="1.58"/><circle cx="338.1" cy="97.8" r="1.58"/><circle cx="346.3" cy="97.4" r="1.58"/><circle cx="317.5" cy="102.5" r="1.58"/><circle cx="323.8" cy="104.0" r="1.58"/><circle cx="312.5" cy="106.5" r="1.58"/><circle cx="320.6" cy="106.5" r="1.58"/><circle cx="319.4" cy="108.8" r="1.58"/><circle cx="330.0" cy="107.5" r="1.58"/><circle cx="332.5" cy="106.9" r="1.58"/><circle cx="339.4" cy="109.8" r="1.58"/><circle cx="304.4" cy="113.1" r="1.58"/><circle cx="310.6" cy="112.5" r="1.58"/><circle cx="313.1" cy="111.3" r="1.58"/><circle cx="313.8" cy="113.8" r="1.58"/><circle cx="317.5" cy="112.5" r="1.58"/><circle cx="320.0" cy="113.1" r="1.58"/><circle cx="328.1" cy="111.3" r="1.58"/><circle cx="327.5" cy="113.8" r="1.58"/><circle cx="323.8" cy="114.4" r="1.58"/><circle cx="341.3" cy="114.4" r="1.58"/><circle cx="346.9" cy="111.9" r="1.58"/><circle cx="308.1" cy="116.9" r="1.58"/><circle cx="318.8" cy="115.6" r="1.58"/><circle cx="330.0" cy="116.9" r="1.58"/><circle cx="325.0" cy="118.1" r="1.58"/><circle cx="315.0" cy="118.8" r="1.58"/><circle cx="316.3" cy="120.0" r="1.58"/><circle cx="313.1" cy="120.6" r="1.58"/><circle cx="308.8" cy="120.6" r="1.58"/><circle cx="321.3" cy="120.0" r="1.58"/><circle cx="322.5" cy="121.3" r="1.58"/><circle cx="320.6" cy="122.5" r="1.58"/><circle cx="333.1" cy="119.4" r="1.58"/><circle cx="336.3" cy="119.4" r="1.58"/><circle cx="345.6" cy="118.8" r="1.58"/><circle cx="312.5" cy="124.4" r="1.58"/><circle cx="325.0" cy="123.8" r="1.58"/><circle cx="317.5" cy="123.1" r="1.58"/><circle cx="316.3" cy="123.3" r="1.58"/><circle cx="318.8" cy="122.6" r="1.58"/><circle cx="322.5" cy="123.3" r="1.58"/><circle cx="306.9" cy="127.3" r="1.58"/><circle cx="312.5" cy="127.6" r="1.58"/><circle cx="315.6" cy="127.0" r="1.58"/><circle cx="318.1" cy="128.3" r="1.58"/><circle cx="320.6" cy="127.6" r="1.58"/><circle cx="330.0" cy="127.0" r="1.58"/><circle cx="336.3" cy="127.0" r="1.58"/><circle cx="351.3" cy="128.9" r="1.58"/><circle cx="361.9" cy="126.8" r="1.58"/><circle cx="305.6" cy="131.4" r="1.58"/><circle cx="308.1" cy="130.8" r="1.58"/><circle cx="310.6" cy="130.1" r="1.58"/><circle cx="316.3" cy="130.8" r="1.58"/><circle cx="318.8" cy="133.3" r="1.58"/><circle cx="320.0" cy="135.8" r="1.58"/><circle cx="317.5" cy="134.5" r="1.58"/><circle cx="323.1" cy="130.8" r="1.58"/><circle cx="325.0" cy="133.3" r="1.58"/><circle cx="326.9" cy="134.5" r="1.58"/><circle cx="331.3" cy="131.0" r="1.58"/><circle cx="309.4" cy="136.4" r="1.58"/><circle cx="311.9" cy="137.0" r="1.58"/><circle cx="315.6" cy="137.6" r="1.58"/><circle cx="324.4" cy="137.6" r="1.58"/><circle cx="328.8" cy="137.0" r="1.58"/><circle cx="319.4" cy="138.3" r="1.58"/><circle cx="320.6" cy="139.5" r="1.58"/><circle cx="309.4" cy="140.8" r="1.58"/><circle cx="314.4" cy="140.8" r="1.58"/><circle cx="316.3" cy="142.0" r="1.58"/><circle cx="317.5" cy="143.3" r="1.58"/><circle cx="324.4" cy="139.5" r="1.58"/><circle cx="326.3" cy="140.8" r="1.58"/><circle cx="322.5" cy="143.3" r="1.58"/><circle cx="330.0" cy="142.0" r="1.58"/><circle cx="337.5" cy="142.6" r="1.58"/><circle cx="310.0" cy="145.1" r="1.58"/><circle cx="311.9" cy="147.0" r="1.58"/><circle cx="318.1" cy="146.4" r="1.58"/><circle cx="326.3" cy="146.4" r="1.58"/><circle cx="319.4" cy="148.5" r="1.58"/><circle cx="308.8" cy="148.9" r="1.58"/><circle cx="346.9" cy="148.0" r="1.58"/><circle cx="333.8" cy="148.9" r="1.58"/><circle cx="325.0" cy="150.1" r="1.58"/><circle cx="307.5" cy="151.4" r="1.58"/><circle cx="330.0" cy="151.0" r="1.58"/><circle cx="386.3" cy="119.3" r="1.58"/><circle cx="316.3" cy="133.3" r="1.58"/><circle cx="319.0" cy="134.7" r="1.58"/><circle cx="317.7" cy="136.2" r="1.58"/><circle cx="311.7" cy="136.0" r="1.58"/><circle cx="314.3" cy="137.3" r="1.58"/><circle cx="309.0" cy="130.0" r="1.58"/><circle cx="319.7" cy="126.7" r="1.58"/><circle cx="308.8" cy="151.3" r="1.58"/><circle cx="314.4" cy="152.5" r="1.58"/><circle cx="318.1" cy="150.6" r="1.58"/><circle cx="332.8" cy="153.1" r="1.58"/><circle cx="308.8" cy="154.8" r="1.58"/><circle cx="315.0" cy="156.3" r="1.58"/><circle cx="318.8" cy="156.9" r="1.58"/><circle cx="321.3" cy="154.4" r="1.58"/><circle cx="338.8" cy="154.8" r="1.58"/><circle cx="326.3" cy="157.8" r="1.58"/><circle cx="305.0" cy="161.5" r="1.58"/><circle cx="322.5" cy="161.0" r="1.58"/><circle cx="329.4" cy="162.8" r="1.58"/><circle cx="311.9" cy="164.0" r="1.58"/><circle cx="313.8" cy="163.1" r="1.58"/><circle cx="349.4" cy="166.9" r="1.58"/><circle cx="312.7" cy="164.8" r="1.58"/><circle cx="309.3" cy="167.4" r="1.58"/><circle cx="312.3" cy="169.5" r="1.58"/><circle cx="319.1" cy="172.0" r="1.58"/><circle cx="322.5" cy="172.5" r="1.58"/><circle cx="325.0" cy="172.5" r="1.58"/><circle cx="311.0" cy="175.4" r="1.58"/><circle cx="313.6" cy="174.6" r="1.58"/><circle cx="316.5" cy="175.0" r="1.58"/><circle cx="318.2" cy="173.7" r="1.58"/><circle cx="320.3" cy="175.4" r="1.58"/><circle cx="321.2" cy="178.4" r="1.58"/><circle cx="310.6" cy="180.1" r="1.58"/><circle cx="315.3" cy="180.1" r="1.58"/><circle cx="317.0" cy="179.7" r="1.58"/><circle cx="308.9" cy="182.6" r="1.58"/><circle cx="317.0" cy="182.6" r="1.58"/><circle cx="316.2" cy="181.8" r="1.58"/><circle cx="327.7" cy="184.8" r="1.58"/><circle cx="330.6" cy="184.6" r="1.58"/><circle cx="304.8" cy="186.5" r="1.58"/><circle cx="308.2" cy="186.5" r="1.58"/><circle cx="313.7" cy="186.5" r="1.58"/><circle cx="319.6" cy="186.1" r="1.58"/><circle cx="321.3" cy="186.9" r="1.58"/><circle cx="329.4" cy="189.5" r="1.58"/><circle cx="337.0" cy="189.5" r="1.58"/><circle cx="339.5" cy="191.6" r="1.58"/><circle cx="307.7" cy="189.5" r="1.58"/><circle cx="310.7" cy="189.5" r="1.58"/><circle cx="309.0" cy="191.6" r="1.58"/><circle cx="315.8" cy="189.0" r="1.58"/><circle cx="317.1" cy="190.3" r="1.58"/><circle cx="314.9" cy="192.0" r="1.58"/><circle cx="317.9" cy="193.7" r="1.58"/><circle cx="307.3" cy="193.7" r="1.58"/><circle cx="309.9" cy="193.7" r="1.58"/><circle cx="311.6" cy="194.6" r="1.58"/><circle cx="308.6" cy="195.4" r="1.58"/><circle cx="306.5" cy="196.3" r="1.58"/><circle cx="310.3" cy="196.3" r="1.58"/><circle cx="312.4" cy="196.3" r="1.58"/><circle cx="304.8" cy="197.1" r="1.58"/><circle cx="314.9" cy="196.7" r="1.58"/><circle cx="318.3" cy="196.3" r="1.58"/><circle cx="320.9" cy="196.7" r="1.58"/><circle cx="323.4" cy="196.3" r="1.58"/><circle cx="326.8" cy="195.0" r="1.58"/><circle cx="328.5" cy="196.7" r="1.58"/><circle cx="331.5" cy="197.1" r="1.58"/><circle cx="334.4" cy="197.1" r="1.58"/><circle cx="336.1" cy="197.5" r="1.58"/><circle cx="342.5" cy="193.3" r="1.58"/><circle cx="346.3" cy="195.8" r="1.58"/><circle cx="303.2" cy="192.0" r="1.58"/><circle cx="303.5" cy="195.0" r="1.58"/><circle cx="305.5" cy="193.0" r="1.58"/></g>
<g fill="#0d5840"><circle cx="441.8" cy="45.9" r="1.55"/><circle cx="466.9" cy="53.6" r="1.55"/><circle cx="469.4" cy="73.0" r="1.55"/><circle cx="442.1" cy="84.8" r="1.55"/><circle cx="484.0" cy="81.6" r="1.55"/><circle cx="475.9" cy="87.0" r="1.55"/><circle cx="480.3" cy="88.1" r="1.55"/><circle cx="460.3" cy="90.8" r="1.55"/><circle cx="452.8" cy="95.4" r="1.55"/><circle cx="452.1" cy="96.6" r="1.55"/><circle cx="457.8" cy="95.0" r="1.55"/><circle cx="467.1" cy="95.4" r="1.55"/><circle cx="473.4" cy="94.1" r="1.55"/><circle cx="477.8" cy="95.4" r="1.55"/><circle cx="463.4" cy="98.3" r="1.55"/><circle cx="471.5" cy="98.5" r="1.55"/><circle cx="486.5" cy="98.3" r="1.55"/><circle cx="451.5" cy="102.5" r="1.55"/><circle cx="464.6" cy="104.1" r="1.55"/><circle cx="454.0" cy="105.8" r="1.55"/><circle cx="461.5" cy="105.8" r="1.55"/><circle cx="450.3" cy="107.3" r="1.55"/><circle cx="453.4" cy="106.8" r="1.55"/><circle cx="467.1" cy="110.1" r="1.55"/><circle cx="471.5" cy="108.9" r="1.55"/><circle cx="472.1" cy="111.4" r="1.55"/><circle cx="479.0" cy="112.0" r="1.55"/><circle cx="477.8" cy="113.0" r="1.55"/><circle cx="483.4" cy="108.0" r="1.55"/><circle cx="485.3" cy="111.4" r="1.55"/><circle cx="448.4" cy="113.5" r="1.55"/><circle cx="454.0" cy="111.8" r="1.55"/><circle cx="457.1" cy="113.5" r="1.55"/><circle cx="452.8" cy="115.1" r="1.55"/><circle cx="469.0" cy="114.5" r="1.55"/><circle cx="469.6" cy="116.4" r="1.55"/><circle cx="450.3" cy="119.3" r="1.55"/><circle cx="454.0" cy="119.5" r="1.55"/><circle cx="454.6" cy="122.0" r="1.55"/><circle cx="460.3" cy="118.0" r="1.55"/><circle cx="462.1" cy="120.1" r="1.55"/><circle cx="465.3" cy="117.0" r="1.55"/><circle cx="475.3" cy="118.3" r="1.55"/><circle cx="476.5" cy="120.5" r="1.55"/><circle cx="464.6" cy="121.8" r="1.55"/><circle cx="467.8" cy="122.0" r="1.55"/><circle cx="470.3" cy="122.6" r="1.55"/><circle cx="472.1" cy="121.4" r="1.55"/><circle cx="473.4" cy="123.9" r="1.55"/><circle cx="460.3" cy="123.3" r="1.55"/><circle cx="462.8" cy="125.1" r="1.55"/><circle cx="466.5" cy="124.5" r="1.55"/><circle cx="468.4" cy="126.4" r="1.55"/><circle cx="471.5" cy="125.1" r="1.55"/><circle cx="474.0" cy="127.0" r="1.55"/><circle cx="477.1" cy="126.4" r="1.55"/><circle cx="479.0" cy="125.1" r="1.55"/><circle cx="480.3" cy="128.3" r="1.55"/><circle cx="460.3" cy="127.0" r="1.55"/><circle cx="461.5" cy="128.9" r="1.55"/><circle cx="462.8" cy="130.8" r="1.55"/><circle cx="467.1" cy="128.9" r="1.55"/><circle cx="469.6" cy="130.1" r="1.55"/><circle cx="472.8" cy="129.5" r="1.55"/><circle cx="476.5" cy="128.9" r="1.55"/><circle cx="478.4" cy="130.1" r="1.55"/><circle cx="485.3" cy="127.0" r="1.55"/><circle cx="440.9" cy="128.3" r="1.55"/><circle cx="435.3" cy="130.8" r="1.55"/><circle cx="442.8" cy="131.8" r="1.55"/><circle cx="445.9" cy="131.4" r="1.55"/><circle cx="442.0" cy="151.3" r="1.55"/><circle cx="489.7" cy="114.8" r="1.55"/><circle cx="494.8" cy="113.3" r="1.55"/><circle cx="508.5" cy="113.4" r="1.55"/><circle cx="495.0" cy="119.6" r="1.55"/><circle cx="507.0" cy="147.7" r="1.55"/><circle cx="489.7" cy="149.6" r="1.55"/><circle cx="449.6" cy="133.6" r="1.55"/><circle cx="446.5" cy="137.4" r="1.55"/><circle cx="457.8" cy="134.9" r="1.55"/><circle cx="459.6" cy="136.8" r="1.55"/><circle cx="460.9" cy="133.0" r="1.55"/><circle cx="461.5" cy="138.0" r="1.55"/><circle cx="465.3" cy="130.5" r="1.55"/><circle cx="467.1" cy="132.4" r="1.55"/><circle cx="469.0" cy="133.6" r="1.55"/><circle cx="470.9" cy="131.8" r="1.55"/><circle cx="471.5" cy="129.9" r="1.55"/><circle cx="466.5" cy="136.1" r="1.55"/><circle cx="467.8" cy="134.9" r="1.55"/><circle cx="464.0" cy="139.9" r="1.55"/><circle cx="465.3" cy="141.1" r="1.55"/><circle cx="466.5" cy="141.8" r="1.55"/><circle cx="470.3" cy="139.9" r="1.55"/><circle cx="472.1" cy="140.3" r="1.55"/><circle cx="474.0" cy="139.9" r="1.55"/><circle cx="479.6" cy="133.6" r="1.55"/><circle cx="487.1" cy="133.6" r="1.55"/><circle cx="453.4" cy="143.0" r="1.55"/><circle cx="461.5" cy="144.9" r="1.55"/><circle cx="467.8" cy="146.8" r="1.55"/><circle cx="473.4" cy="144.3" r="1.55"/><circle cx="474.0" cy="146.8" r="1.55"/><circle cx="471.5" cy="148.6" r="1.55"/><circle cx="467.8" cy="149.3" r="1.55"/><circle cx="475.3" cy="148.6" r="1.55"/><circle cx="482.8" cy="141.8" r="1.55"/><circle cx="450.3" cy="148.0" r="1.55"/><circle cx="452.1" cy="151.1" r="1.55"/><circle cx="480.3" cy="149.5" r="1.55"/><circle cx="472.1" cy="151.1" r="1.55"/><circle cx="459.6" cy="153.0" r="1.55"/><circle cx="468.4" cy="153.6" r="1.55"/><circle cx="475.9" cy="154.3" r="1.55"/><circle cx="488.4" cy="154.3" r="1.55"/><circle cx="451.5" cy="155.5" r="1.55"/><circle cx="444.0" cy="157.4" r="1.55"/><circle cx="460.9" cy="157.0" r="1.55"/><circle cx="464.6" cy="156.1" r="1.55"/><circle cx="457.1" cy="160.9" r="1.55"/><circle cx="442.8" cy="163.8" r="1.55"/><circle cx="467.1" cy="164.6" r="1.55"/><circle cx="470.3" cy="163.4" r="1.55"/><circle cx="472.8" cy="161.8" r="1.55"/><circle cx="439.6" cy="167.1" r="1.55"/><circle cx="453.4" cy="167.8" r="1.55"/><circle cx="458.4" cy="169.6" r="1.55"/><circle cx="439.0" cy="174.0" r="1.55"/><circle cx="442.8" cy="175.9" r="1.55"/><circle cx="452.1" cy="174.6" r="1.55"/><circle cx="467.8" cy="175.9" r="1.55"/><circle cx="472.8" cy="172.8" r="1.55"/><circle cx="474.6" cy="172.8" r="1.55"/><circle cx="474.0" cy="175.3" r="1.55"/><circle cx="440.3" cy="179.6" r="1.55"/><circle cx="457.1" cy="180.3" r="1.55"/><circle cx="459.0" cy="180.9" r="1.55"/><circle cx="461.5" cy="183.0" r="1.55"/><circle cx="464.0" cy="183.8" r="1.55"/><circle cx="484.0" cy="178.4" r="1.55"/><circle cx="486.5" cy="182.5" r="1.55"/><circle cx="464.6" cy="186.5" r="1.55"/><circle cx="483.4" cy="185.3" r="1.55"/><circle cx="444.6" cy="187.1" r="1.55"/><circle cx="450.9" cy="187.8" r="1.55"/><circle cx="451.5" cy="186.5" r="1.55"/><circle cx="458.4" cy="186.5" r="1.55"/><circle cx="460.3" cy="187.8" r="1.55"/><circle cx="457.1" cy="190.3" r="1.55"/><circle cx="459.0" cy="189.6" r="1.55"/><circle cx="465.3" cy="190.3" r="1.55"/><circle cx="467.1" cy="191.5" r="1.55"/><circle cx="470.3" cy="189.6" r="1.55"/><circle cx="474.6" cy="189.0" r="1.55"/><circle cx="477.8" cy="190.3" r="1.55"/><circle cx="446.5" cy="191.5" r="1.55"/><circle cx="438.4" cy="190.3" r="1.55"/><circle cx="436.5" cy="192.1" r="1.55"/><circle cx="462.1" cy="194.0" r="1.55"/><circle cx="467.8" cy="193.4" r="1.55"/><circle cx="469.0" cy="194.6" r="1.55"/><circle cx="477.1" cy="194.0" r="1.55"/><circle cx="435.5" cy="196.5" r="1.55"/><circle cx="437.4" cy="197.4" r="1.55"/><circle cx="439.6" cy="196.3" r="1.55"/><circle cx="442.5" cy="197.5" r="1.55"/><circle cx="445.6" cy="196.8" r="1.55"/><circle cx="448.5" cy="197.6" r="1.55"/><circle cx="451.2" cy="196.4" r="1.55"/><circle cx="453.8" cy="197.5" r="1.55"/><circle cx="456.5" cy="196.9" r="1.55"/><circle cx="459.6" cy="197.3" r="1.55"/><circle cx="462.3" cy="196.2" r="1.55"/><circle cx="464.8" cy="197.4" r="1.55"/><circle cx="467.5" cy="196.6" r="1.55"/><circle cx="470.5" cy="197.5" r="1.55"/><circle cx="473.2" cy="196.7" r="1.55"/><circle cx="482.1" cy="197.1" r="1.55"/><circle cx="506.5" cy="177.3" r="1.55"/><circle cx="499.3" cy="193.2" r="1.55"/><circle cx="473.8" cy="172.1" r="1.55"/></g>
<path d="M44.3,189.3 L50,189.1 L55,189.3 L57.5,190 L58.6,193.4 L62,193.6 L63,199 L44.3,199 Z" fill="#cf2440"/>
<g fill="none" stroke="#c0102c" stroke-width="0.85"><circle cx="54.7" cy="190.4" r="1.25"/><circle cx="46.3" cy="193.6" r="1.25"/><circle cx="45.7" cy="192.9" r="1.25"/><circle cx="46.7" cy="189.8" r="1.25"/><circle cx="57.9" cy="196.4" r="1.25"/><circle cx="48.4" cy="191.0" r="1.25"/><circle cx="64.3" cy="197.5" r="1.25"/><circle cx="49.0" cy="190.1" r="1.25"/><circle cx="54.2" cy="196.3" r="1.25"/><circle cx="50.2" cy="194.2" r="1.25"/><circle cx="46.4" cy="190.9" r="1.25"/><circle cx="54.4" cy="194.3" r="1.25"/><circle cx="69.5" cy="195.3" r="1.25"/><circle cx="52.2" cy="194.2" r="1.25"/><circle cx="61.0" cy="196.9" r="1.25"/><circle cx="57.7" cy="195.8" r="1.25"/><circle cx="49.3" cy="193.4" r="1.25"/><circle cx="45.7" cy="195.0" r="1.25"/><circle cx="68.6" cy="194.2" r="1.25"/><circle cx="66.4" cy="194.3" r="1.25"/><circle cx="71.0" cy="197.5" r="1.25"/><circle cx="59.4" cy="195.0" r="1.25"/><circle cx="46.4" cy="195.3" r="1.25"/><circle cx="56.7" cy="195.0" r="1.25"/><circle cx="45.2" cy="193.2" r="1.25"/><circle cx="49.8" cy="190.1" r="1.25"/><circle cx="46.4" cy="195.9" r="1.25"/><circle cx="48.6" cy="191.2" r="1.25"/><circle cx="56.8" cy="196.8" r="1.25"/><circle cx="47.0" cy="193.0" r="1.25"/><circle cx="61.8" cy="197.0" r="1.25"/><circle cx="70.3" cy="196.8" r="1.25"/><circle cx="53.3" cy="192.7" r="1.25"/><circle cx="55.8" cy="197.0" r="1.25"/><circle cx="50.1" cy="191.1" r="1.25"/><circle cx="51.9" cy="193.4" r="1.25"/><circle cx="44.6" cy="192.8" r="1.25"/><circle cx="56.1" cy="194.1" r="1.25"/><circle cx="74.5" cy="195.2" r="1.25"/><circle cx="60.7" cy="194.6" r="1.25"/><circle cx="72.8" cy="196.0" r="1.25"/><circle cx="72.0" cy="196.2" r="1.25"/><circle cx="56.9" cy="192.6" r="1.25"/><circle cx="47.8" cy="194.7" r="1.25"/><circle cx="51.1" cy="190.5" r="1.25"/><circle cx="44.5" cy="190.4" r="1.25"/><circle cx="47.7" cy="192.3" r="1.25"/><circle cx="45.3" cy="196.9" r="1.25"/><circle cx="52.4" cy="192.1" r="1.25"/><circle cx="47.2" cy="189.9" r="1.25"/><circle cx="55.3" cy="191.4" r="1.25"/><circle cx="45.2" cy="197.6" r="1.25"/><circle cx="71.7" cy="195.3" r="1.25"/><circle cx="52.7" cy="192.3" r="1.25"/><circle cx="49.8" cy="195.9" r="1.25"/><circle cx="61.3" cy="196.0" r="1.25"/><circle cx="54.9" cy="191.0" r="1.25"/><circle cx="71.4" cy="196.3" r="1.25"/><circle cx="70.3" cy="195.7" r="1.25"/><circle cx="51.6" cy="193.7" r="1.25"/><circle cx="45.4" cy="191.5" r="1.25"/><circle cx="52.7" cy="195.2" r="1.25"/><circle cx="51.4" cy="191.0" r="1.25"/><circle cx="50.7" cy="190.8" r="1.25"/><circle cx="64.2" cy="197.1" r="1.25"/><circle cx="65.1" cy="196.2" r="1.25"/><circle cx="47.2" cy="194.9" r="1.25"/><circle cx="73.2" cy="196.0" r="1.25"/><circle cx="50.1" cy="196.1" r="1.25"/><circle cx="55.0" cy="196.2" r="1.25"/><circle cx="57.1" cy="197.5" r="1.25"/><circle cx="48.5" cy="190.4" r="1.25"/><circle cx="73.0" cy="196.3" r="1.25"/><circle cx="49.1" cy="196.4" r="1.25"/><circle cx="75.4" cy="194.9" r="1.25"/><circle cx="55.5" cy="193.9" r="1.25"/><circle cx="75.1" cy="194.8" r="1.25"/><circle cx="61.1" cy="197.4" r="1.25"/><circle cx="58.2" cy="196.8" r="1.25"/><circle cx="52.4" cy="191.6" r="1.25"/><circle cx="52.1" cy="194.3" r="1.25"/><circle cx="52.7" cy="192.8" r="1.25"/><circle cx="48.6" cy="197.2" r="1.25"/><circle cx="55.6" cy="193.1" r="1.25"/><circle cx="62.9" cy="197.1" r="1.25"/><circle cx="57.7" cy="197.3" r="1.25"/><circle cx="44.6" cy="196.2" r="1.25"/><circle cx="49.9" cy="193.3" r="1.25"/><circle cx="67.3" cy="194.0" r="1.25"/><circle cx="54.8" cy="193.7" r="1.25"/><circle cx="62.0" cy="196.1" r="1.25"/><circle cx="47.8" cy="194.0" r="1.25"/><circle cx="52.3" cy="191.5" r="1.25"/><circle cx="62.2" cy="195.8" r="1.25"/><circle cx="60.6" cy="195.2" r="1.25"/><circle cx="59.6" cy="197.5" r="1.25"/><circle cx="66.5" cy="196.9" r="1.25"/><circle cx="62.1" cy="197.5" r="1.25"/><circle cx="48.3" cy="193.0" r="1.25"/><circle cx="46.8" cy="191.2" r="1.25"/><circle cx="46.8" cy="195.0" r="1.25"/><circle cx="69.2" cy="197.1" r="1.25"/><circle cx="49.4" cy="195.4" r="1.25"/><circle cx="72.3" cy="197.7" r="1.25"/><circle cx="51.4" cy="197.6" r="1.25"/><circle cx="57.0" cy="193.4" r="1.25"/><circle cx="75.7" cy="196.5" r="1.25"/><circle cx="49.6" cy="192.9" r="1.25"/><circle cx="50.7" cy="191.9" r="1.25"/><circle cx="45.1" cy="192.0" r="1.25"/><circle cx="69.3" cy="197.7" r="1.25"/><circle cx="47.8" cy="191.4" r="1.25"/><circle cx="45.7" cy="196.0" r="1.25"/><circle cx="53.0" cy="190.2" r="1.25"/><circle cx="57.8" cy="197.2" r="1.25"/><circle cx="49.2" cy="197.3" r="1.25"/><circle cx="62.5" cy="195.3" r="1.25"/><circle cx="46.8" cy="197.4" r="1.25"/><circle cx="64.5" cy="196.2" r="1.25"/><circle cx="47.1" cy="196.7" r="1.25"/></g>
<g fill="none" stroke="#c0102c" stroke-width="0.9"><circle cx="45.6" cy="184.2" r="1.3"/><circle cx="45.6" cy="185.0" r="1.3"/><circle cx="45.6" cy="185.8" r="1.3"/><circle cx="45.6" cy="186.6" r="1.3"/><circle cx="45.6" cy="187.4" r="1.3"/><circle cx="45.6" cy="188.2" r="1.3"/><circle cx="45.6" cy="189.0" r="1.3"/></g>
<ellipse cx="45.5" cy="186.3" rx="1.4" ry="2.6" fill="#c0102c"/>
<ellipse cx="47.6" cy="168.3" rx="2.0" ry="2.5" fill="#b0102c"/>
<g fill="none" stroke="#a8122e" stroke-width="0.85"><circle cx="52.0" cy="37.5" r="1.45"/><circle cx="47.1" cy="69.1" r="1.45"/><circle cx="49.0" cy="92.7" r="1.45"/><circle cx="62.8" cy="132.5" r="1.45"/><circle cx="74.4" cy="154.1" r="1.45"/><circle cx="98.4" cy="155.8" r="1.45"/><circle cx="70.3" cy="161.6" r="1.45"/><circle cx="75.0" cy="160.6" r="1.45"/><circle cx="52.6" cy="169.2" r="1.45"/><circle cx="55.5" cy="171.8" r="1.45"/><circle cx="56.6" cy="175.1" r="1.45"/><circle cx="59.1" cy="178.1" r="1.45"/><circle cx="61.4" cy="182.1" r="1.45"/><circle cx="65.9" cy="180.6" r="1.45"/><circle cx="71.5" cy="170.3" r="1.45"/><circle cx="83.4" cy="182.8" r="1.45"/><circle cx="82.8" cy="186.9" r="1.45"/><circle cx="51.7" cy="184.7" r="1.45"/><circle cx="52.2" cy="187.1" r="1.45"/><circle cx="54.6" cy="188.3" r="1.45"/><circle cx="56.3" cy="176.6" r="1.45"/><circle cx="66.9" cy="187.9" r="1.45"/><circle cx="68.2" cy="185.6" r="1.45"/><circle cx="67.6" cy="189.2" r="1.45"/><circle cx="70.8" cy="190.6" r="1.45"/><circle cx="73.8" cy="191.0" r="1.45"/><circle cx="65.3" cy="188.8" r="1.45"/><circle cx="62.5" cy="190.3" r="1.45"/><circle cx="76.0" cy="196.2" r="1.45"/><circle cx="78.0" cy="197.0" r="1.45"/><circle cx="80.0" cy="196.2" r="1.45"/><circle cx="82.0" cy="197.0" r="1.45"/><circle cx="84.0" cy="196.2" r="1.45"/><circle cx="86.0" cy="197.0" r="1.45"/><circle cx="88.0" cy="196.2" r="1.45"/><circle cx="90.0" cy="197.0" r="1.45"/><circle cx="92.0" cy="196.2" r="1.45"/><circle cx="94.0" cy="197.0" r="1.45"/><circle cx="96.0" cy="196.2" r="1.45"/><circle cx="98.0" cy="197.0" r="1.45"/><circle cx="100.0" cy="196.2" r="1.45"/><circle cx="77.0" cy="197.8" r="1.45"/><circle cx="80.6" cy="197.8" r="1.45"/><circle cx="84.2" cy="197.8" r="1.45"/><circle cx="87.8" cy="197.8" r="1.45"/><circle cx="91.4" cy="197.8" r="1.45"/><circle cx="95.0" cy="197.8" r="1.45"/><circle cx="98.5" cy="197.3" r="1.45"/><circle cx="107.0" cy="197.3" r="1.45"/><circle cx="109.1" cy="197.3" r="1.45"/><circle cx="116.8" cy="197.3" r="1.45"/><circle cx="118.2" cy="197.3" r="1.45"/><circle cx="127.4" cy="197.3" r="1.45"/><circle cx="74.0" cy="194.8" r="1.45"/></g>
<g fill="#c0102c"><circle cx="101.2" cy="192.3" r="1.7"/></g>
<rect x="0" y="0" width="520" height="1" fill="#666"/>
<rect x="0" y="1" width="520" height="1" fill="#eee"/>
<rect x="0" y="0" width="1" height="240" fill="#555"/>
<rect x="1" y="0" width="1" height="240" fill="#ddd"/>
<rect x="519" y="0" width="1" height="240" fill="#555"/>
<rect x="518" y="0" width="1" height="240" fill="#e4e4e4"/>
<rect x="0" y="239" width="520" height="1" fill="#666"/>
</svg>
</body></html>
